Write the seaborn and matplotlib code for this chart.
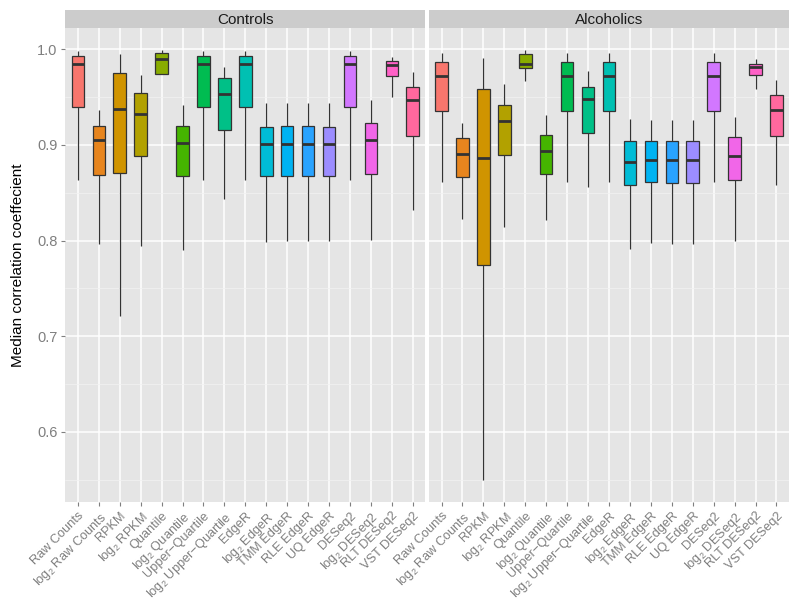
import numpy as np
import pandas as pd
import matplotlib
matplotlib.use("Agg")
import matplotlib.pyplot as plt
import seaborn as sns

methods = ["Raw Counts", "log$_2$ Raw Counts", "RPKM", "log$_2$ RPKM", "Quantile",
           "log$_2$ Quantile", "Upper\u2212Quartile", "log$_2$ Upper\u2212Quartile", "EdgeR",
           "log$_2$ EdgeR", "TMM EdgeR", "RLE EdgeR", "UQ EdgeR", "DESeq2",
           "log$_2$ DESeq2", "RLT DESeq2", "VST DESeq2"]
panels = ["Controls", "Alcoholics"]

# Controls: whisker low, q1, median, q3, whisker high
ctrl_lo  = [0.863, 0.796, 0.721, 0.794, 0.974, 0.790, 0.863, 0.843, 0.863, 0.798, 0.799, 0.799, 0.799, 0.863, 0.801, 0.950, 0.832]
ctrl_q1  = [0.940, 0.869, 0.871, 0.888, 0.974, 0.868, 0.940, 0.916, 0.940, 0.868, 0.868, 0.868, 0.867, 0.940, 0.870, 0.972, 0.909]
ctrl_med = [0.985, 0.905, 0.938, 0.932, 0.990, 0.902, 0.985, 0.953, 0.985, 0.901, 0.901, 0.901, 0.901, 0.985, 0.905, 0.984, 0.947]
ctrl_q3  = [0.993, 0.920, 0.975, 0.954, 0.996, 0.920, 0.993, 0.970, 0.993, 0.919, 0.920, 0.920, 0.919, 0.993, 0.923, 0.988, 0.961]
ctrl_hi  = [0.998, 0.937, 0.995, 0.973, 0.999, 0.942, 0.998, 0.982, 0.998, 0.944, 0.944, 0.944, 0.944, 0.998, 0.947, 0.992, 0.976]

# Alcoholics
alc_lo  = [0.861, 0.823, 0.549, 0.814, 0.967, 0.821, 0.861, 0.856, 0.861, 0.791, 0.797, 0.796, 0.796, 0.861, 0.799, 0.959, 0.858]
alc_q1  = [0.935, 0.866, 0.774, 0.889, 0.980, 0.870, 0.935, 0.913, 0.935, 0.858, 0.861, 0.860, 0.860, 0.935, 0.863, 0.973, 0.909]
alc_med = [0.972, 0.890, 0.886, 0.925, 0.985, 0.894, 0.972, 0.948, 0.972, 0.882, 0.884, 0.884, 0.884, 0.972, 0.888, 0.982, 0.937]
alc_q3  = [0.987, 0.907, 0.958, 0.942, 0.995, 0.910, 0.987, 0.961, 0.987, 0.904, 0.904, 0.904, 0.904, 0.987, 0.908, 0.985, 0.952]
alc_hi  = [0.996, 0.923, 0.991, 0.964, 0.999, 0.931, 0.996, 0.977, 0.996, 0.927, 0.926, 0.926, 0.926, 0.996, 0.929, 0.990, 0.968]

yticks = [0.6, 0.7, 0.8, 0.9, 1.0]
ylabel = "Median correlation coeffecient"


def hcl_hex(h, c, l):
    h = np.deg2rad(h)
    L = l
    U = c * np.cos(h)
    V = c * np.sin(h)
    Xn, Yn, Zn = 95.047, 100.0, 108.883
    un = 4 * Xn / (Xn + 15 * Yn + 3 * Zn)
    vn = 9 * Yn / (Xn + 15 * Yn + 3 * Zn)
    Y = Yn * ((L + 16) / 116) ** 3 if L > 8 else Yn * L / 903.3
    u = U / (13 * L) + un
    v = V / (13 * L) + vn
    X = 9.0 * Y * u / (4 * v)
    Z = -X / 3 - 5 * Y + 3 * Y / v
    X, Y, Z = X / 100, Y / 100, Z / 100
    r = 3.240479 * X - 1.537150 * Y - 0.498535 * Z
    g = -0.969256 * X + 1.875992 * Y + 0.041556 * Z
    b = 0.055648 * X - 0.204043 * Y + 1.057311 * Z

    def gam(t):
        t = 12.92 * t if t <= 0.0031308 else 1.055 * t ** (1 / 2.4) - 0.055
        return min(max(t, 0), 1)
    return matplotlib.colors.to_hex((gam(r), gam(g), gam(b)))


n = len(methods)
hues = np.linspace(15, 375, n + 1)[:n]
palette = {m: hcl_hex(h, 100, 65) for m, h in zip(methods, hues)}

rows = []
stats = {"Controls": (ctrl_lo, ctrl_q1, ctrl_med, ctrl_q3, ctrl_hi),
         "Alcoholics": (alc_lo, alc_q1, alc_med, alc_q3, alc_hi)}
for p in panels:
    lo, q1, med, q3, hi = stats[p]
    for i, m in enumerate(methods):
        for val in (lo[i], q1[i], med[i], q3[i], hi[i]):
            rows.append({"panel": p, "method": m, "value": val})
df = pd.DataFrame(rows)

sns.set_theme(style="darkgrid")
plt.rcParams["font.family"] = ["Liberation Sans", "DejaVu Sans"]
plt.rcParams["mathtext.fontset"] = "custom"
plt.rcParams["mathtext.rm"] = "Liberation Sans"
plt.rcParams["mathtext.it"] = "Liberation Sans:italic"

fig = plt.figure(figsize=(8.0, 6.03), dpi=100)
W, H = 800, 603
top_px, bot_px = 28.3, 502
lefts = [65.3, 429.0]
rights = [425.3, 789.0]
axes = []
for k, p in enumerate(panels):
    ax = fig.add_axes([lefts[k] / W, 1 - bot_px / H, (rights[k] - lefts[k]) / W, (bot_px - top_px) / H])
    axes.append(ax)
    ax.set_facecolor("#E5E5E5")
    sub = df[df["panel"] == p]
    sns.boxplot(data=sub, x="method", y="value", hue="method", order=methods, hue_order=methods,
                palette=palette, legend=False, whis=(0, 100), width=0.6, saturation=1,
                linecolor="#333333", linewidth=0.9, fliersize=0, showcaps=False,
                medianprops=dict(linewidth=2.0, color="#333333"), ax=ax, zorder=3)
    ax.set_xlim(-0.6, n - 1 + 0.6)
    ax.set_ylim(0.5265, 1.022)
    ax.set_yticks(yticks)
    ax.set_yticks([0.55, 0.65, 0.75, 0.85, 0.95], minor=True)
    ax.grid(True, which="major", color="white", linewidth=1.1, zorder=0)
    ax.grid(True, which="minor", axis="y", color="#F2F2F2", linewidth=0.5, zorder=0)
    ax.set_axisbelow(True)
    for s in ax.spines.values():
        s.set_visible(False)
    ax.set_xlabel("")
    ax.set_ylabel("")
    ax.set_xticks(range(n))
    ax.set_xticklabels(methods, rotation=45, ha="right", rotation_mode="anchor",
                       fontsize=9.2, color="#7F7F7F")
    ax.tick_params(axis="both", which="major", length=3.2, width=0.8, color="#7F7F7F",
                   pad=2.5, bottom=True, left=True)
    ax.tick_params(axis="y", which="minor", length=0)
    if k == 0:
        ax.set_yticklabels([f"{t:.1f}" for t in yticks], fontsize=10.5, color="#7F7F7F")
    else:
        ax.tick_params(axis="y", which="both", left=False, labelleft=False)
    # strip
    sax = fig.add_axes([lefts[k] / W, 1 - top_px / H, (rights[k] - lefts[k]) / W, 18.3 / H])
    sax.set_facecolor("#CCCCCC")
    sax.set_xticks([])
    sax.set_yticks([])
    for s in sax.spines.values():
        s.set_visible(False)
    sax.text(0.5, 0.45, p, ha="center", va="center", fontsize=11, color="#1A1A1A",
             transform=sax.transAxes)

fig.text(18 / W, 1 - 265 / H, ylabel, rotation=90, ha="center", va="center",
         fontsize=11, color="black")

fig.savefig("out.png", dpi=100, facecolor="white")
